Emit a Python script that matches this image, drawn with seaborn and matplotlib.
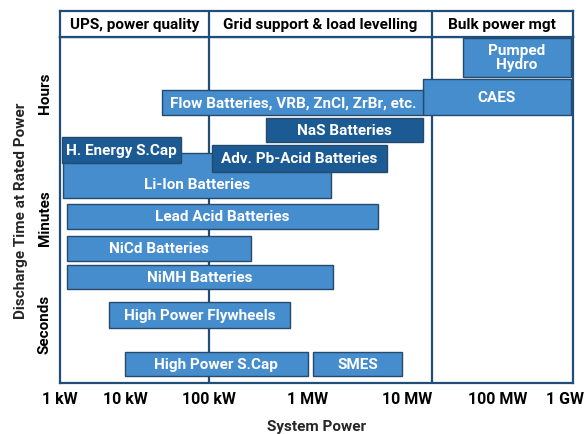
import numpy as np
import pandas as pd
import matplotlib
matplotlib.use('Agg')
import matplotlib.pyplot as plt
import seaborn as sns

# technologies, power range (W) and vertical band (discharge-time axis units, 0 = top)
names = ['Pumped\nHydro', 'CAES', 'Flow Batteries, VRB, ZnCl, ZrBr, etc.', 'NaS Batteries',
         'Li-Ion Batteries', 'H. Energy S.Cap', 'Adv. Pb-Acid Batteries',
         'Lead Acid Batteries', 'NiCd Batteries', 'NiMH Batteries',
         'High Power Flywheels', 'High Power S.Cap', 'SMES']
p_low = [4.1e7, 1.5e7, 2.8e4, 3.8e5, 1.1e3, 1.07e3, 1.07e5, 1.28e3, 1.28e3, 1.28e3, 5.7e3, 1.0e4, 1.12e6]
p_high = [1.2e9, 1.2e9, 1.5e7, 1.5e7, 1.7e6, 4.7e4, 6.2e6, 5.1e6, 2.65e5, 1.78e6, 6.7e5, 1.0e6, 8.9e6]
t_top = [1, 42, 53, 81, 116, 100, 108, 167, 199, 228, 265, 315, 315]
t_span = [39, 36, 25, 24, 45, 26, 27, 25, 25, 24, 26, 24, 24]
label_shift = [0, 0, 0, 0, 9, 0, 0, 0, 0, 0, 0, 0, 0]

time_labels = ['Hours', 'Minutes', 'Seconds']
time_pos = [55, 180, 286]

decades = [1e3, 1e4, 1e5, 1e6, 1e7, 1e8, 1e9]
decade_labels = ['1 kW', '10 kW', '100 kW', '1 MW', '10 MW', '100 MW', '1 GW']

sections = ['UPS, power quality', 'Grid support & load levelling', 'Bulk power mgt']
section_edges = [1e3, 1e5, 1.85e7, 1.3e9]

df = pd.DataFrame({'name': names, 'low': p_low, 'high': p_high, 'top': t_top, 'span': t_span})

DARK_BARS = {'NaS Batteries', 'H. Energy S.Cap', 'Adv. Pb-Acid Batteries'}
LIGHT = '#468dcd'
DARK = '#1c5a94'
FRAME = '#1f4e7a'

sns.set_theme(style='white')
plt.rcParams['font.family'] = ['Roboto', 'DejaVu Sans']
plt.rcParams['font.weight'] = 'bold'

# uneven log spacing like the original drawing
_L = [0, 3, 4, 5, 6, 7, 8, 9, 12]
_P = [-135, 60, 125, 209, 308, 408, 498, 566, 770]


def fwd(x):
    x = np.asarray(x, dtype=float)
    with np.errstate(divide='ignore', invalid='ignore'):
        lx = np.log10(np.where(x > 0, x, 1e-300))
    return np.interp(lx, _L, _P)


def inv(p):
    return 10 ** np.interp(np.asarray(p, dtype=float), _P, _L)


fig = plt.figure(figsize=(5.86, 4.35), dpi=100)
ax = fig.add_axes([60 / 586, 51 / 435, 513 / 586, 346 / 435])
hax = fig.add_axes([60 / 586, 397 / 435, 513 / 586, 26 / 435], sharex=ax)

for a in (ax, hax):
    a.set_xscale('function', functions=(fwd, inv))
    for s in a.spines.values():
        s.set_color(FRAME)
        s.set_linewidth(1.6)
ax.set_xlim(1e3, 1.3e9)
ax.set_ylim(346, 0)
hax.set_ylim(0, 1)

for e in section_edges[1:-1]:
    ax.axvline(e, color=FRAME, lw=1.6, zorder=1)
    hax.axvline(e, color=FRAME, lw=1.6, zorder=1)

for i, r in df.iterrows():
    col = DARK if r['name'] in DARK_BARS else LIGHT
    ax.barh(r['top'] + r['span'] / 2, r['high'] - r['low'], left=r['low'], height=r['span'],
            color=col, edgecolor='#264a6b', linewidth=1.0, zorder=2 + i * 0.01)
    xc = inv((fwd(r['low']) + fwd(r['high'])) / 2)
    ax.text(xc, r['top'] + r['span'] / 2 + label_shift[i], r['name'], color='white',
            ha='center', va='center', fontsize=11, fontweight='bold',
            linespacing=1.0, zorder=3 + i * 0.01)

for j, sec in enumerate(sections):
    xc = inv((fwd(section_edges[j]) + fwd(min(section_edges[j + 1], 1.3e9))) / 2)
    hax.text(xc, 0.5, sec, ha='center', va='center', fontsize=11, fontweight='bold', color='black')
hax.set_yticks([])
hax.tick_params(axis='x', length=0, labelbottom=False)

ax.set_xticks(decades)
ax.set_xticklabels(decade_labels, fontsize=11.5, fontweight='bold')
ax.xaxis.set_minor_locator(matplotlib.ticker.NullLocator())
ax.set_yticks(time_pos)
ax.set_yticklabels(time_labels, rotation=90, va='center', fontsize=11, fontweight='bold')
ax.tick_params(axis='both', length=0, pad=6, colors='black')
ax.set_xlabel('System Power', fontsize=11, fontweight='bold', labelpad=9)
ax.set_ylabel('Discharge Time at Rated Power', fontsize=11, fontweight='bold', labelpad=7)

fig.savefig('out.png', dpi=100)
